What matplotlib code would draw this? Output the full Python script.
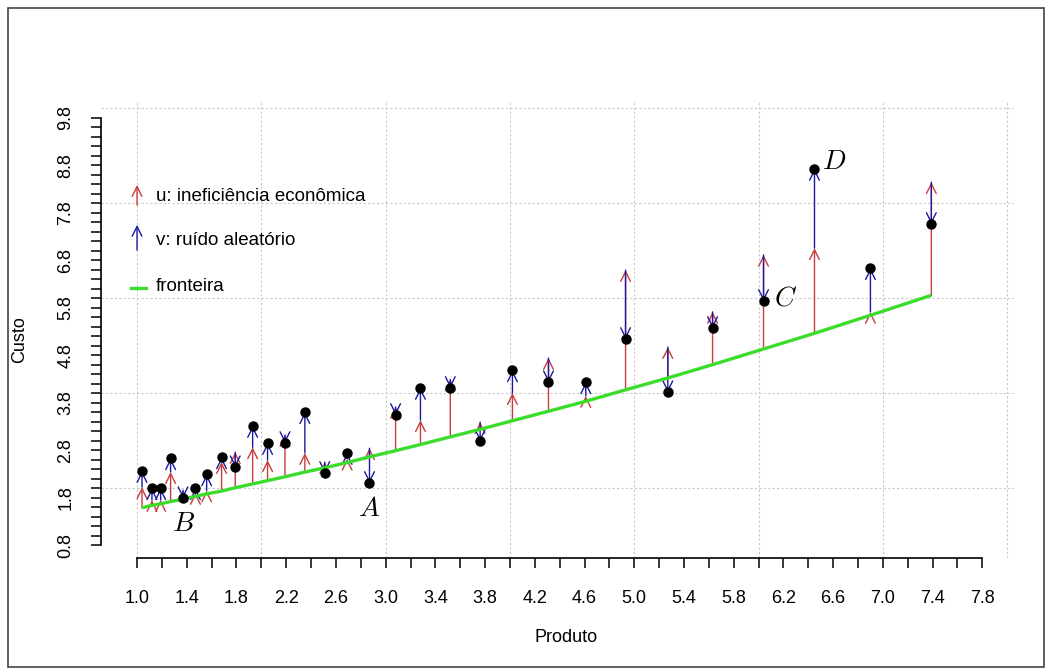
import matplotlib
matplotlib.use("Agg")
import matplotlib.pyplot as plt
from matplotlib.patches import FancyArrowPatch, Rectangle

# dados: produto, fronteira de custo, ineficiencia (u) e ruido (v)
produto = [1.04, 1.12, 1.19, 1.27, 1.37, 1.47, 1.56, 1.68, 1.79, 1.93,
           2.05, 2.19, 2.35, 2.51, 2.69, 2.87, 3.08, 3.28, 3.52, 3.76,
           4.02, 4.31, 4.61, 4.93, 5.27, 5.63, 6.04, 6.45, 6.90, 7.39]
fronteira = [1.59, 1.64, 1.67, 1.72, 1.77, 1.83, 1.88, 1.94, 2.01, 2.09,
             2.16, 2.24, 2.34, 2.43, 2.54, 2.66, 2.79, 2.92, 3.08, 3.24,
             3.42, 3.62, 3.83, 4.07, 4.32, 4.60, 4.93, 5.26, 5.64, 6.06]
u = [0.43, 0.11, 0.08, 0.62, 0.19, 0.07, 0.07, 0.61, 0.75, 0.77,
     0.43, 0.88, 0.40, 0.12, 0.08, 0.18, 0.92, 0.51, 1.21, 0.15,
     0.58, 1.12, 0.11, 2.52, 0.65, 1.11, 1.98, 1.79, 0.07, 2.38]
v = [0.34, 0.25, 0.25, 0.29, -0.17, 0.10, 0.34, 0.10, -0.32, 0.45,
     0.36, -0.17, 0.86, -0.23, 0.12, -0.73, -0.17, 0.68, -0.18, -0.40,
     0.48, -0.51, 0.29, -1.45, -0.95, -0.34, -0.97, 1.67, 0.92, -0.88]

# pontos destacados
rotulos = ["A", "B", "C", "D"]
rot_idx = [15, 4, 26, 27]

x_ticks = [round(1.0 + 0.2 * i, 1) for i in range(35)]
y_ticks = [round(0.8 + 0.2 * i, 1) for i in range(46)]

vermelho = "#c83c3c"
azul = "#1a1aa0"
verde = "#3cdc2c"

plt.rcParams["font.family"] = ["Liberation Sans", "DejaVu Sans"]
plt.rcParams["mathtext.fontset"] = "cm"

fig = plt.figure(figsize=(10.52, 6.71), dpi=100)
ax = fig.add_axes([0.096, 0.168, 0.868, 0.683])
ax.set_xlim(0.71, 8.056)
ax.set_ylim(0.526, 10.17)

for gx in range(1, 9):
    ax.axvline(gx, color="#c8c8c8", lw=0.8, dashes=(2, 2), zorder=1)
for gy in range(2, 11, 2):
    ax.axhline(gy, color="#c8c8c8", lw=0.8, dashes=(2, 2), zorder=1)


def seta(x, y0, y1, cor, z):
    if abs(y1 - y0) < 1e-6:
        return
    a = FancyArrowPatch((x, y0), (x, y1), arrowstyle="->,head_length=0.7,head_width=0.35",
                        mutation_scale=10, color=cor, lw=1.0, shrinkA=0, shrinkB=0, zorder=z)
    ax.add_patch(a)


custo = []
for xi, fi, ui, vi in zip(produto, fronteira, u, v):
    seta(xi, fi, fi + ui, vermelho, 2)
    seta(xi, fi + ui, fi + ui + vi, azul, 3)
    custo.append(fi + ui + vi)

ax.plot(produto, fronteira, color=verde, lw=2.4, zorder=4, solid_capstyle="butt")
ax.plot(produto, custo, "o", color="black", ms=6.5, zorder=5)

# letras dos pontos
offs = {"A": (0.0, -0.55), "B": (0.0, -0.55), "C": (0.18, 0.05), "D": (0.16, 0.15)}
for r, i in zip(rotulos, rot_idx):
    dx, dy = offs[r]
    ax.text(produto[i] + dx, custo[i] + dy, "$%s$" % r, fontsize=20,
            ha="center", va="center", zorder=6)

# legenda manual
seta(1.0, 7.96, 8.38, vermelho, 6)
seta(1.0, 7.01, 7.54, azul, 6)
ax.plot([0.95, 1.07], [6.21, 6.21], color=verde, lw=2.4, zorder=6)
ax.text(1.15, 8.13, "u: ineficiência econômica", fontsize=13.5, va="center")
ax.text(1.15, 7.22, "v: ruído aleatório", fontsize=13.5, va="center")
ax.text(1.15, 6.25, "fronteira", fontsize=13.5, va="center")

# eixos no estilo do R
for s in ["top", "right"]:
    ax.spines[s].set_visible(False)
ax.spines["left"].set_bounds(0.8, 9.8)
ax.spines["bottom"].set_bounds(1.0, 7.8)
ax.spines["left"].set_linewidth(1.2)
ax.spines["bottom"].set_linewidth(1.2)

ax.set_xticks(x_ticks)
ax.set_xticklabels(["%.1f" % t if i % 2 == 0 else "" for i, t in enumerate(x_ticks)])
ax.set_yticks(y_ticks)
ax.set_yticklabels(["%.1f" % t if i % 5 == 0 else "" for i, t in enumerate(y_ticks)],
                   rotation=90, va="center")
ax.tick_params(axis="x", length=7, width=1.1, pad=16, labelsize=13)
ax.tick_params(axis="y", length=7, width=1.1, pad=12, labelsize=13)

fig.text(566 / 1052, 1 - 638 / 671, "Produto", ha="center", va="center", fontsize=13)
fig.text(20 / 1052, 1 - 340 / 671, "Custo", ha="center", va="center", fontsize=13, rotation=90)

fig.patches.append(Rectangle((8 / 1052, 1 - 667 / 671), 1036 / 1052, 659 / 671,
                             transform=fig.transFigure, fill=False, edgecolor="#444444", lw=1.2))

fig.savefig("out.png", dpi=100)
